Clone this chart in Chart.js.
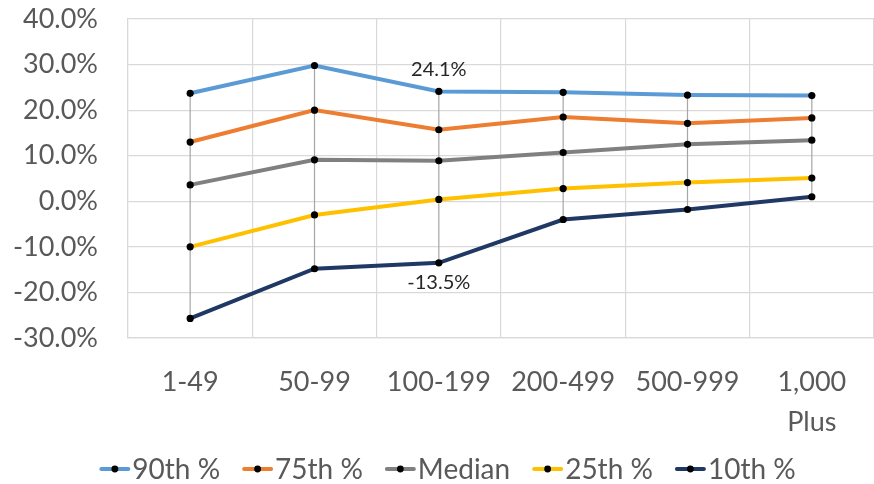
<!DOCTYPE html>
<html>
<head>
<meta charset="utf-8">
<script src="https://cdn.jsdelivr.net/npm/chart.js@4.4.1/dist/chart.umd.min.js"></script>
<style>
  html, body { margin: 0; padding: 0; background: #ffffff; }
  #wrap { width: 874px; height: 484px; }
</style>
</head>
<body>
<div id="wrap"><canvas id="chart" width="874" height="484"></canvas></div>
<script>
// Company size bands
const categories = ['1-49', '50-99', '100-199', '200-499', '500-999', ['1,000', 'Plus']];

// Percentile series (percent)
const p90 = [23.7, 29.8, 24.1, 23.9, 23.3, 23.2];
const p75 = [13.0, 20.0, 15.7, 18.5, 17.1, 18.3];
const median = [3.6, 9.1, 8.9, 10.7, 12.5, 13.4];
const p25 = [-10.0, -3.0, 0.4, 2.8, 4.1, 5.1];
const p10 = [-25.7, -14.8, -13.5, -4.0, -1.8, 1.0];

const seriesNames = ['90th %', '75th %', 'Median', '25th %', '10th %'];
const seriesColors = ['#5B9BD5', '#ED7D31', '#808080', '#FFC000', '#203864'];

// y-axis ticks
const yTicks = [-30, -20, -10, 0, 10, 20, 30, 40];

// Points that carry a value label: [series index, category index, placement]
const valueLabels = [[0, 2, 'above'], [4, 2, 'below']];

const FONT = 'Lato, "Open Sans", sans-serif';
const TEXT = '#595959';

const seriesData = [p90, p75, median, p25, p10];

const datasets = seriesData.map((d, i) => ({
  label: seriesNames[i],
  data: d,
  borderColor: seriesColors[i],
  backgroundColor: seriesColors[i],
  borderWidth: 4,
  pointRadius: 3.6,
  pointHoverRadius: 3.6,
  pointBackgroundColor: '#000000',
  pointBorderWidth: 0,
  tension: 0,
  fill: false
}));

// Grey high-low lines joining the extreme values in every category
const highLowLines = {
  id: 'highLowLines',
  beforeDatasetsDraw(chart) {
    const ctx = chart.ctx;
    const n = chart.data.labels.length;
    ctx.save();
    ctx.strokeStyle = '#A6A6A6';
    ctx.lineWidth = 1.2;
    for (let i = 0; i < n; i++) {
      let lo = Infinity, hi = -Infinity, x = null;
      chart.data.datasets.forEach((ds, di) => {
        const el = chart.getDatasetMeta(di).data[i];
        if (!el) return;
        x = el.x;
        lo = Math.min(lo, el.y);
        hi = Math.max(hi, el.y);
      });
      if (x === null) continue;
      ctx.beginPath();
      ctx.moveTo(x, lo);
      ctx.lineTo(x, hi);
      ctx.stroke();
    }
    ctx.restore();
  }
};

// Value labels next to selected points
const pointValueLabels = {
  id: 'pointValueLabels',
  afterDatasetsDraw(chart) {
    const ctx = chart.ctx;
    ctx.save();
    ctx.font = '20px ' + FONT;
    ctx.fillStyle = '#262626';
    ctx.textAlign = 'center';
    ctx.textBaseline = 'middle';
    valueLabels.forEach(([s, c, where]) => {
      const el = chart.getDatasetMeta(s).data[c];
      const v = chart.data.datasets[s].data[c];
      const dy = where === 'above' ? -22 : 20;
      ctx.fillText(v.toFixed(1) + '%', el.x, el.y + dy);
    });
    ctx.restore();
  }
};

// Legend row: short line with a black marker, then the series name
const lineLegend = {
  id: 'lineLegend',
  afterDraw(chart) {
    const ctx = chart.ctx;
    const sw = 29, gapText = 3, gapItem = 23, cy = 469;
    ctx.save();
    ctx.font = '28px ' + FONT;
    ctx.textBaseline = 'middle';
    const items = chart.data.datasets.map(ds => ({
      label: ds.label, color: ds.borderColor, w: ctx.measureText(ds.label).width
    }));
    const total = items.reduce((a, it) => a + sw + gapText + it.w, 0) + gapItem * (items.length - 1);
    let x = chart.width / 2 + 11 - total / 2;
    items.forEach(it => {
      ctx.strokeStyle = it.color;
      ctx.lineWidth = 4;
      ctx.lineCap = 'round';
      ctx.beginPath();
      ctx.moveTo(x + 1, cy);
      ctx.lineTo(x + sw - 1, cy);
      ctx.stroke();
      ctx.fillStyle = '#000000';
      ctx.beginPath();
      ctx.arc(x + sw / 2, cy, 3.4, 0, Math.PI * 2);
      ctx.fill();
      ctx.fillStyle = TEXT;
      ctx.textAlign = 'left';
      ctx.fillText(it.label, x + sw + gapText, cy + 1);
      x += sw + gapText + it.w + gapItem;
    });
    ctx.restore();
  }
};

// Let the plot area use the full space given by the layout padding
function noLabelPadding(scale) {
  scale.paddingTop = 0;
  scale.paddingBottom = 0;
  scale.paddingLeft = 0;
  scale.paddingRight = 0;
}

new Chart(document.getElementById('chart'), {
  type: 'line',
  data: { labels: categories, datasets },
  options: {
    responsive: false,
    animation: false,
    devicePixelRatio: 1,
    layout: { autoPadding: false, padding: { top: 19, right: -2, bottom: 0, left: 0 } },
    plugins: {
      legend: { display: false },
      tooltip: { enabled: false }
    },
    scales: {
      x: {
        offset: true,
        grid: { offset: true, color: '#D9D9D9', lineWidth: 1.2, drawTicks: false },
        border: { display: true, color: '#D9D9D9', width: 1.2 },
        ticks: {
          color: TEXT,
          font: { family: FONT, size: 27, lineHeight: 1.48 },
          padding: 24,
          maxRotation: 0,
          autoSkip: false
        },
        afterFit(scale) { scale.height = 146; noLabelPadding(scale); }
      },
      y: {
        min: -30,
        max: 40,
        afterBuildTicks(scale) { scale.ticks = yTicks.map(v => ({ value: v })); },
        grid: { color: '#D9D9D9', lineWidth: 1.2, drawTicks: false },
        border: { display: true, color: '#D9D9D9', width: 1.2 },
        ticks: {
          color: TEXT,
          font: { family: FONT, size: 27 },
          padding: 30,
          callback: v => v.toFixed(1) + '%'
        },
        afterFit(scale) { scale.width = 128; noLabelPadding(scale); }
      }
    }
  },
  plugins: [highLowLines, pointValueLabels, lineLegend]
});
</script>
</body>
</html>
